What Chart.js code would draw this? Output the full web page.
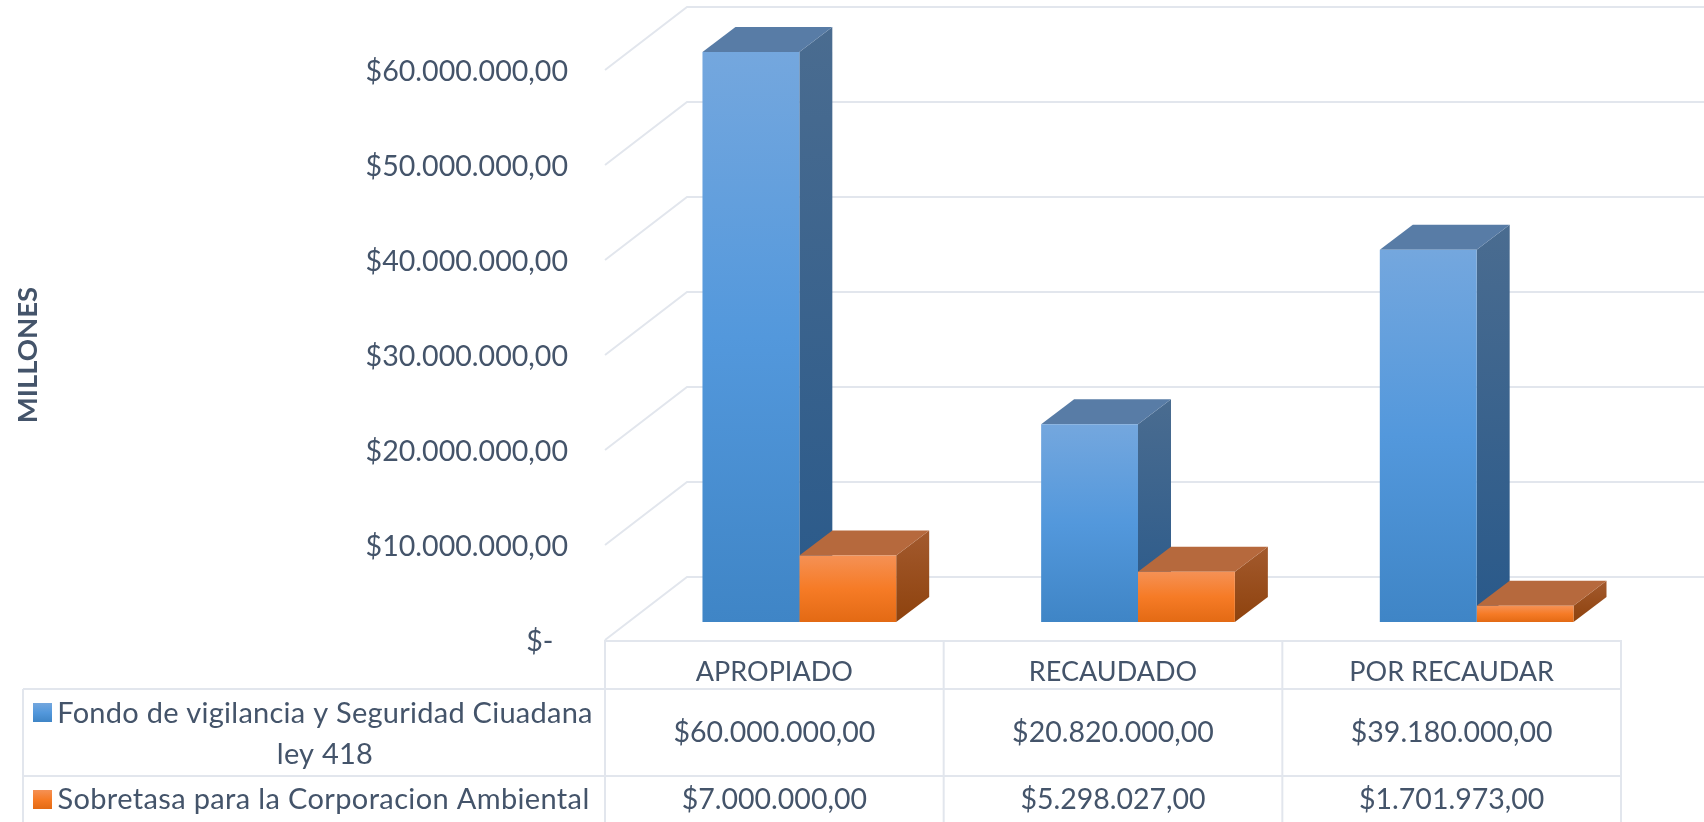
<!DOCTYPE html>
<html><head><meta charset="utf-8">
<style>html,body{margin:0;padding:0;background:#fff}#w{width:1704px;height:822px;position:relative}canvas{display:block}</style>
<script src="https://cdn.jsdelivr.net/npm/chart.js@4"></script>
</head><body><div id="w"><canvas id="c" width="1704" height="822"></canvas></div>
<script>
const categories = ["APROPIADO", "RECAUDADO", "POR RECAUDAR"];
const fondoValues = [60000000, 20820000, 39180000];
const sobretasaValues = [7000000, 5298027, 1701973];
const axisTicks = [0, 10000000, 20000000, 30000000, 40000000, 50000000, 60000000];
const fondoLabel = ["Fondo de vigilancia y Seguridad Ciuadana", "ley 418"];
const sobretasaLabel = ["Sobretasa para la Corporacion Ambiental"];
const axisTitle = "MILLONES";

const TXT = "#44546A", LINE = "#E2E6ED", FONT = "Lato";
const money = v => v === 0 ? "$-  " : "$" + v.toLocaleString("de-DE", {minimumFractionDigits: 2, maximumFractionDigits: 2});

const WALL = {dx: 82, dy: -63}, BAR = {dx: 33, dy: -25}, SHIFT = {x: 25, y: -18};
const BLUE = {front: ["#74A7DE", "#5398DC", "#3F85C6"], side: ["#4A6C90", "#29598A"], top: "#587CA6"};
const ORANGE = {front: ["#F59155", "#F67B26", "#E36A14"], side: ["#A35A2E", "#8E420D"], top: "#B6693D"};
const palettes = [BLUE, ORANGE];

function grad(ctx, y0, y1, stops) {
  const g = ctx.createLinearGradient(0, y0, 0, y1);
  stops.forEach((c, i) => g.addColorStop(i / (stops.length - 1), c));
  return g;
}
function poly(ctx, pts, fill) {
  ctx.beginPath();
  pts.forEach((p, i) => i ? ctx.lineTo(p[0], p[1]) : ctx.moveTo(p[0], p[1]));
  ctx.closePath(); ctx.fillStyle = fill; ctx.fill();
}
function frontFill(pal) {
  return c => {
    const y = c.chart.scales.y;
    if (!y || !c.parsed || !c.chart.chartArea) return pal.front[1];
    return grad(c.chart.ctx, y.getPixelForValue(c.parsed.y), y.getPixelForValue(0), pal.front);
  };
}

const scene = {
  id: "scene",
  beforeDatasetsDraw(chart) {
    const {ctx, scales: {y}, chartArea: ca} = chart;
    ctx.save();
    ctx.strokeStyle = LINE; ctx.lineWidth = 2;
    axisTicks.forEach(t => {
      const p = y.getPixelForValue(t);
      ctx.beginPath();
      ctx.moveTo(ca.left, p);
      ctx.lineTo(ca.left + WALL.dx, p + WALL.dy);
      ctx.lineTo(chart.width, p + WALL.dy);
      ctx.stroke();
    });
    ctx.restore();
    ctx.save();
    ctx.translate(SHIFT.x, SHIFT.y);
    categories.forEach((_, i) => {
      [0, 1].forEach(d => {
        const b = chart.getDatasetMeta(d).data[i], pal = palettes[d];
        const l = b.x - b.width / 2, r = b.x + b.width / 2;
        poly(ctx, [[r, b.y], [r + BAR.dx, b.y + BAR.dy], [r + BAR.dx, b.base + BAR.dy], [r, b.base]],
             grad(ctx, b.y + BAR.dy, b.base, pal.side));
        poly(ctx, [[l, b.y], [l + BAR.dx, b.y + BAR.dy], [r + BAR.dx, b.y + BAR.dy], [r, b.y]], pal.top);
      });
    });
  },
  afterDatasetsDraw(chart) { chart.ctx.restore(); },
  afterDraw(chart) {
    const {ctx, scales: {x}, chartArea: ca} = chart;
    const colW = x.getPixelForValue(1) - x.getPixelForValue(0);
    const cols = [ca.left, ca.left + colW, ca.left + 2 * colW, ca.left + 3 * colW];
    const tableLeft = 23, rowA = 689, rowB = 776, bottom = chart.height;
    ctx.save();
    ctx.strokeStyle = LINE; ctx.lineWidth = 2;
    const seg = (a, b, c, d) => { ctx.beginPath(); ctx.moveTo(a, b); ctx.lineTo(c, d); ctx.stroke(); };
    seg(ca.left, ca.bottom + 1, cols[3], ca.bottom + 1);
    seg(tableLeft, rowA, cols[3], rowA);
    seg(tableLeft, rowB, cols[3], rowB);
    seg(tableLeft, rowA, tableLeft, bottom);
    cols.forEach(c => seg(c, ca.bottom, c, bottom));

    ctx.fillStyle = TXT; ctx.textBaseline = "middle"; ctx.textAlign = "center";
    ctx.font = "28.5px " + FONT;
    categories.forEach((_, i) => {
      ctx.fillText(money(fondoValues[i]), x.getPixelForValue(i), 733);
      ctx.fillText(money(sobretasaValues[i]), x.getPixelForValue(i), 800);
    });
    ctx.font = "29px " + FONT;
    ctx.letterSpacing = "0.25px";
    ctx.fillText(fondoLabel[0], 325, 714);
    ctx.fillText(fondoLabel[1], 325, 755);
    ctx.letterSpacing = "0.36px";
    ctx.fillText(sobretasaLabel[0], 323.5, 800);
    ctx.restore();
    poly(ctx, [[33, 703], [52, 703], [52, 722], [33, 722]], grad(ctx, 703, 722, BLUE.front));
    poly(ctx, [[33, 790], [52, 790], [52, 809], [33, 809]], grad(ctx, 790, 809, ORANGE.front));
  }
};

new Chart(document.getElementById("c"), {
  type: "bar",
  data: {
    labels: categories,
    datasets: [
      {label: fondoLabel.join(" "), data: fondoValues, backgroundColor: frontFill(BLUE), clip: false},
      {label: sobretasaLabel[0], data: sobretasaValues, backgroundColor: frontFill(ORANGE), clip: false}
    ]
  },
  plugins: [scene],
  options: {
    responsive: false, animation: false, devicePixelRatio: 1,
    layout: {padding: {top: 70, right: 83, left: 0, bottom: 0}},
    plugins: {legend: {display: false}, tooltip: {enabled: false}, title: {display: false}},
    datasets: {bar: {categoryPercentage: 0.572, barPercentage: 1, borderWidth: 0}},
    scales: {
      x: {
        grid: {display: false, drawTicks: false}, border: {display: false},
        ticks: {color: TXT, font: {family: FONT, size: 27}, padding: 16, maxRotation: 0, autoSkip: false},
        afterFit(s) { s.height = 182; }
      },
      y: {
        min: 0, max: 60000000,
        afterBuildTicks(s) { s.ticks = axisTicks.map(v => ({value: v})); },
        grid: {display: false, drawTicks: false}, border: {display: false},
        ticks: {color: TXT, font: {family: FONT, size: 28.6}, padding: 37, labelOffset: 2, callback: money},
        title: {display: true, text: axisTitle, color: TXT, font: {family: FONT, size: 27.5, weight: "bold"}, padding: {top: 12, bottom: 0}},
        afterFit(s) { s.width = 605; }
      }
    }
  }
});
</script></body></html>
